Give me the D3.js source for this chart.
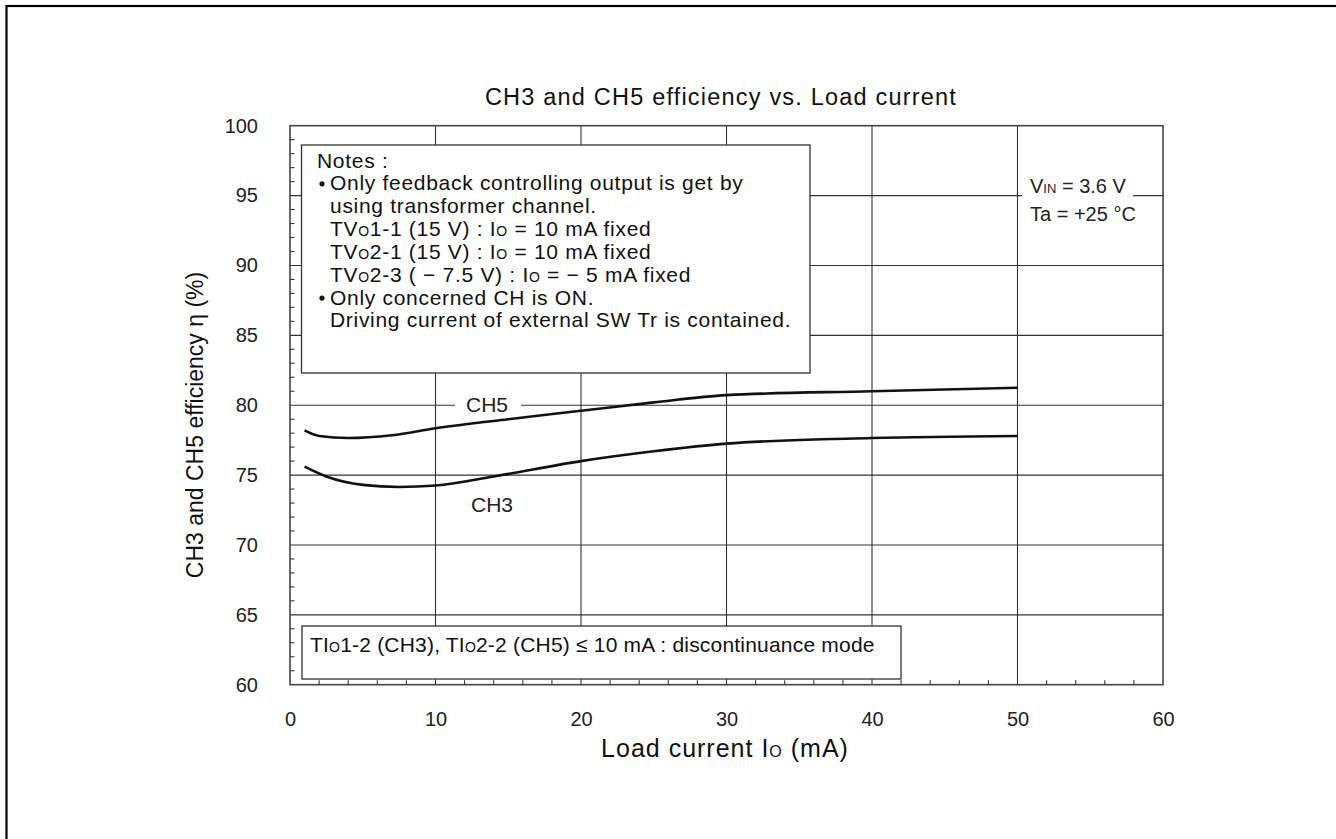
<!DOCTYPE html>
<html><head><meta charset="utf-8">
<script src="https://cdn.jsdelivr.net/npm/d3@7"></script>
<style>
body{margin:0;background:#fff;}
svg{display:block;font-family:"Liberation Sans",Arial,sans-serif;}
</style></head>
<body>
<svg id="chart" width="1336" height="839"></svg>
<script>
// ---- data ----
const xTicks = [0,10,20,30,40,50,60];
const yTicks = [60,65,70,75,80,85,90,95,100];
const ch5X = [1,2,4,7,10,15,20,25,30,40,50];
const ch5Y = [78.2,77.8,77.65,77.85,78.35,79.0,79.6,80.2,80.72,81.0,81.25];
const ch3X = [1,2.5,5,7.5,10,14,20,25,30,40,50];
const ch3Y = [75.6,74.9,74.3,74.15,74.25,74.9,76.0,76.7,77.25,77.65,77.8];
const title = "CH3 and CH5 efficiency vs. Load current";

const svg = d3.select("#chart");
// outer frame
svg.append("rect").attr("x",6.5).attr("y",6).attr("width",1340).attr("height",850)
  .attr("fill","none").attr("stroke","#000").attr("stroke-width",2.2);

const L=290,R=1163,T=125.7,B=684.7;
const x=d3.scaleLinear().domain([0,60]).range([L,R]);
const y=d3.scaleLinear().domain([60,100]).range([B,T]);
const gridC="#333";
const FF="Liberation Sans, Arial, sans-serif";

// grid
const g=svg.append("g");
g.selectAll(".vx").data(xTicks.slice(1,-1)).join("line")
  .attr("x1",d=>x(d)).attr("x2",d=>x(d)).attr("y1",T).attr("y2",B)
  .attr("stroke",gridC).attr("stroke-width",1.1);
g.selectAll(".hy").data(yTicks.slice(1,-1)).join("line")
  .attr("y1",d=>y(d)).attr("y2",d=>y(d)).attr("x1",L).attr("x2",R)
  .attr("stroke",gridC).attr("stroke-width",1.1);

// minor ticks
const xMinor=d3.range(0,60.01,2).filter(v=>v%10!==0);
g.selectAll(".mx").data(xMinor).join("line")
  .attr("x1",d=>x(d)).attr("x2",d=>x(d)).attr("y1",B).attr("y2",B-4.5)
  .attr("stroke",gridC).attr("stroke-width",1.1);
const yMinor=d3.range(60,100.01,1).filter(v=>v%5!==0);
g.selectAll(".my").data(yMinor).join("line")
  .attr("y1",d=>y(d)).attr("y2",d=>y(d)).attr("x1",L).attr("x2",L+4.5)
  .attr("stroke",gridC).attr("stroke-width",1.1);

// axes labels via d3 axis
const xAxis=svg.append("g").attr("transform",`translate(0,${B})`)
  .call(d3.axisBottom(x).tickValues(xTicks).tickSize(0).tickPadding(27));
xAxis.select(".domain").remove();
xAxis.selectAll("text").attr("font-size",20).attr("fill","#222").attr("font-family",FF);
const yAxis=svg.append("g").attr("transform",`translate(${L},0)`)
  .call(d3.axisLeft(y).tickValues(yTicks).tickSize(0).tickPadding(32));
yAxis.select(".domain").remove();
yAxis.selectAll("text").attr("font-size",20).attr("fill","#222").attr("font-family",FF);

// Right annotation white patch
svg.append("rect").attr("x",1022).attr("y",165).attr("width",111).attr("height",62).attr("fill","#fff");
const ann=svg.append("g").attr("font-size",20).attr("fill","#222");
const t1=ann.append("text").attr("x",1030).attr("y",193);
t1.append("tspan").text("V");
t1.append("tspan").attr("font-size",13).text("IN");
t1.append("tspan").text(" = 3.6 V");
ann.append("text").attr("x",1030).attr("y",221).text("Ta = +25 °C");

// Notes box
svg.append("rect").attr("x",301.5).attr("y",145).attr("width",508.5).attr("height",228)
  .attr("fill","#fff").attr("stroke","#333").attr("stroke-width",1.3);
const notes=svg.append("g").attr("font-size",21).attr("fill","#111").attr("letter-spacing",0.7);
function line(xx,yy,parts){
  const t=notes.append("text").attr("x",xx).attr("y",yy);
  parts.forEach(p=>{
    if(typeof p==="string") t.append("tspan").text(p);
    else t.append("tspan").attr("font-size",p.s||14).text(p.t);
  });
  return t;
}
const ly0=167.5, dl=22.85;
function bullet(yy){ notes.append("circle").attr("cx",322).attr("cy",yy-6.5).attr("r",2.6).attr("fill","#111"); }
line(317,ly0,["Notes :"]);
bullet(ly0+dl);
line(330,ly0+dl,["Only feedback controlling output is get by"]);
line(330,ly0+2*dl,["using transformer channel."]);
line(330,ly0+3*dl,["TV",{t:"O"},"1-1 (15 V)  : I",{t:"O"}," = 10 mA fixed"]);
line(330,ly0+4*dl,["TV",{t:"O"},"2-1 (15 V)  : I",{t:"O"}," = 10 mA fixed"]);
line(330,ly0+5*dl,["TV",{t:"O"},"2-3 ( \u2212 7.5 V) : I",{t:"O"}," = \u2212 5 mA fixed"]);
bullet(ly0+6*dl);
line(330,ly0+6*dl,["Only concerned CH is ON."]);
line(330,ly0+7*dl,["Driving current of external SW Tr is contained."]);

// bottom box
svg.append("rect").attr("x",302).attr("y",626).attr("width",599).attr("height",53)
  .attr("fill","#fff").attr("stroke","#333").attr("stroke-width",1.3);
const bt=svg.append("text").attr("x",310).attr("y",652).attr("font-size",21).attr("fill","#111").attr("letter-spacing",0.2);
bt.append("tspan").text("TI");
bt.append("tspan").attr("font-size",14).text("O");
bt.append("tspan").text("1-2 (CH3), TI");
bt.append("tspan").attr("font-size",14).text("O");
bt.append("tspan").text("2-2 (CH5)  \u2264 10 mA : discontinuance mode");

// plot border
svg.append("rect").attr("x",L).attr("y",T).attr("width",R-L).attr("height",B-T)
  .attr("fill","none").attr("stroke","#444").attr("stroke-width",1.6);

// curves
const lineGen=d3.line().x(d=>x(d[0])).y(d=>y(d[1])).curve(d3.curveMonotoneX);
const ch5=ch5X.map((v,i)=>[v,ch5Y[i]]);
const ch3=ch3X.map((v,i)=>[v,ch3Y[i]]);
// CH5 label with white patch
svg.append("rect").attr("x",455).attr("y",394).attr("width",66).attr("height",22).attr("fill","#fff");
svg.append("text").attr("x",487).attr("y",412).attr("text-anchor","middle").attr("font-size",21).attr("fill","#222").text("CH5");
svg.append("text").attr("x",492).attr("y",512).attr("text-anchor","middle").attr("font-size",21).attr("fill","#222").text("CH3");
[ch5,ch3].forEach(d=>svg.append("path").datum(d).attr("d",lineGen)
  .attr("fill","none").attr("stroke","#111").attr("stroke-width",2.6));

// titles
svg.append("text").attr("x",721).attr("y",105).attr("text-anchor","middle").attr("font-size",23.5)
  .attr("letter-spacing",1.2).attr("fill","#111").text(title);
svg.append("text").attr("transform",`translate(203,425) rotate(-90)`).attr("text-anchor","middle")
  .attr("font-size",23).attr("fill","#111").text("CH3 and CH5 efficiency \u03b7 (%)");
const xl=svg.append("text").attr("x",725).attr("y",757).attr("text-anchor","middle").attr("font-size",25)
  .attr("letter-spacing",1).attr("fill","#111");
xl.append("tspan").text("Load current I");
xl.append("tspan").attr("font-size",16).text("O");
xl.append("tspan").text(" (mA)");
</script>
</body></html>
